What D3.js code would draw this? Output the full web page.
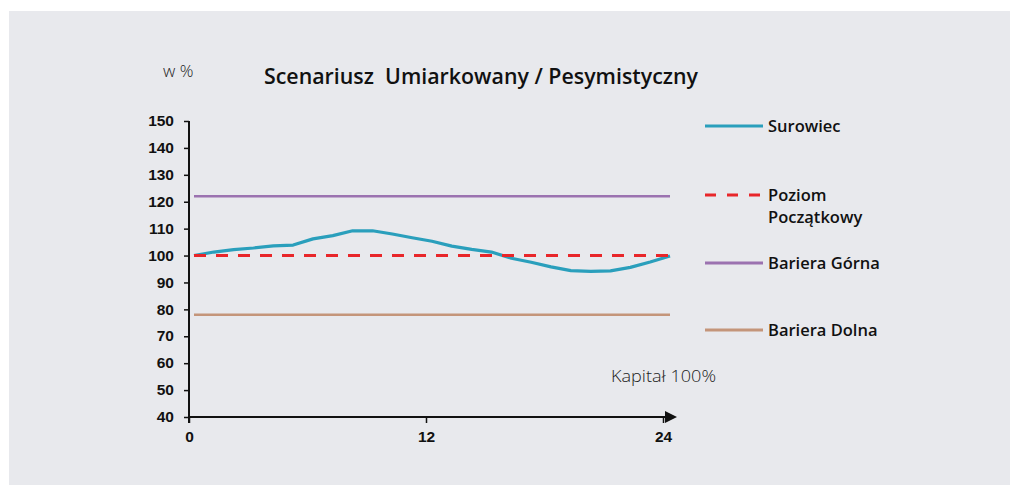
<!DOCTYPE html>
<html lang="pl">
<head>
<meta charset="UTF-8">
<title>Scenariusz Umiarkowany / Pesymistyczny</title>
<script src="https://d3js.org/d3.v7.min.js"></script>
<style>
    body { margin: 0; background: #fff; }
    svg { display: block; font-family: "Open Sans", Roboto, sans-serif; }
    .tick text { font-size: 15.5px; font-weight: 600; fill: #111; }
    .legend text { font-size: 16.5px; font-weight: 600; fill: #111; }
</style>
</head>
<body>
<svg width="1010" height="485"></svg>
<script>
    // dane
    var months = d3.range(0, 25);
    var surowiec = [100, 101.3, 102.2, 102.8, 103.6, 103.9, 106.2, 107.4, 109.2, 109.2,
                    108.0, 106.6, 105.3, 103.5, 102.3, 101.3, 99.0, 97.5, 95.8, 94.4,
                    94.1, 94.3, 95.6, 97.6, 99.8];
    var poziomPoczatkowy = 100;
    var barieraGorna = 122;
    var barieraDolna = 78;
    var yTicks = [40, 50, 60, 70, 80, 90, 100, 110, 120, 130, 140, 150];
    var xTicks = [0, 12, 24];

    var svg = d3.select("svg");

    // tło
    svg.append("rect")
        .attr("x", 9).attr("y", 11)
        .attr("width", 1001).attr("height", 474)
        .attr("fill", "#e8e9ed");

    var x = d3.scaleLinear().domain([0, 24]).range([189, 663]);
    var xLine = d3.scaleLinear().domain([0, 24]).range([194, 670]);
    var y = d3.scaleLinear().domain([40, 150]).range([417, 121]);

    // oś Y
    var yAxis = svg.append("g")
        .attr("transform", "translate(189,0)")
        .call(d3.axisLeft(y).tickValues(yTicks).tickSize(5).tickPadding(10));
    yAxis.select(".domain").attr("stroke", "#111").attr("stroke-width", 2)
        .attr("d", "M0," + y(150) + "V" + (y(40) + 6));
    yAxis.selectAll(".tick line").attr("stroke", "#111").attr("stroke-width", 1.5);
    yAxis.selectAll(".tick text").attr("dy", "0.3em");

    // oś X ze strzałką
    svg.append("defs").append("marker")
        .attr("id", "arrow")
        .attr("viewBox", "0 -5 10 10")
        .attr("refX", 0).attr("refY", 0)
        .attr("markerWidth", 12).attr("markerHeight", 12)
        .attr("markerUnits", "userSpaceOnUse")
        .attr("orient", "auto")
        .append("path")
        .attr("d", "M0,-5L10,0L0,5Z")
        .attr("fill", "#111");
    svg.append("line")
        .attr("x1", 189).attr("x2", 665)
        .attr("y1", y(40)).attr("y2", y(40))
        .attr("stroke", "#111").attr("stroke-width", 2)
        .attr("marker-end", "url(#arrow)");

    var xAxis = svg.append("g")
        .attr("transform", "translate(0," + y(40) + ")")
        .call(d3.axisBottom(x).tickValues(xTicks).tickSize(6).tickPadding(8));
    xAxis.select(".domain").remove();
    xAxis.selectAll(".tick line").attr("stroke", "#111").attr("stroke-width", 1.5);

    // linie poziome
    function hline(v, color, width, dash) {
        var l = svg.append("line")
            .attr("x1", xLine(0)).attr("x2", xLine(24))
            .attr("y1", y(v)).attr("y2", y(v))
            .attr("stroke", color).attr("stroke-width", width);
        if (dash) l.attr("stroke-dasharray", dash);
        return l;
    }
    hline(barieraGorna, "#9b72b0", 2.5);
    hline(barieraDolna, "#c4957a", 2.5);

    // Surowiec
    var line = d3.line()
        .x(function(d, i) { return xLine(months[i]); })
        .y(function(d) { return y(d); });
    svg.append("path")
        .datum(surowiec)
        .attr("d", line)
        .attr("fill", "none")
        .attr("stroke", "#2a9fbc")
        .attr("stroke-width", 3.2)
        .attr("stroke-linejoin", "round");

    hline(poziomPoczatkowy, "#e8262a", 3, "12,10");

    // tytuł i opisy
    svg.append("text")
        .attr("x", 264).attr("y", 84)
        .attr("font-size", 21).attr("font-weight", 600)
        .attr("fill", "#111")
        .style("white-space", "pre")
        .attr("textLength", 434)
        .attr("lengthAdjust", "spacingAndGlyphs")
        .text("Scenariusz  Umiarkowany / Pesymistyczny");

    svg.append("text")
        .attr("x", 163).attr("y", 77)
        .attr("font-size", 17).attr("font-weight", 300)
        .attr("fill", "#222")
        .text("w %");

    svg.append("text")
        .attr("x", 611).attr("y", 382)
        .attr("font-size", 17).attr("font-weight", 300)
        .attr("fill", "#222")
        .attr("textLength", 105)
        .attr("lengthAdjust", "spacingAndGlyphs")
        .text("Kapitał 100%");

    // legenda
    var legend = [
        {name: ["Surowiec"], color: "#2a9fbc", width: 3.2, dash: null, y: 126},
        {name: ["Poziom", "Początkowy"], color: "#e8262a", width: 3, dash: "11,11", y: 195},
        {name: ["Bariera Górna"], color: "#9b72b0", width: 3, dash: null, y: 263},
        {name: ["Bariera Dolna"], color: "#c4957a", width: 3, dash: null, y: 330}
    ];
    var lg = svg.append("g").attr("class", "legend")
        .selectAll("g")
        .data(legend)
        .enter()
        .append("g")
        .attr("transform", function(d) { return "translate(705," + d.y + ")"; });
    lg.append("line")
        .attr("x1", 0).attr("x2", 58)
        .attr("stroke", function(d) { return d.color; })
        .attr("stroke-width", function(d) { return d.width; })
        .attr("stroke-dasharray", function(d) { return d.dash; });
    lg.each(function(d) {
        var t = d3.select(this).append("text").attr("x", 63).attr("y", 6);
        d.name.forEach(function(s, i) {
            t.append("tspan").attr("x", 63).attr("dy", i === 0 ? 0 : 22).text(s);
        });
    });
</script>
</body>
</html>
